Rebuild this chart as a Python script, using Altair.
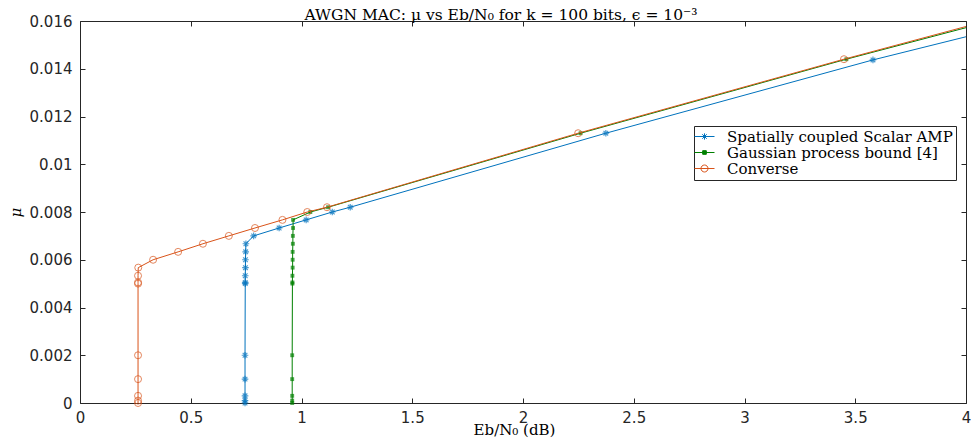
import altair as alt
import pandas as pd

SERIES = ["Spatially coupled Scalar AMP", "Gaussian process bound [4]", "Converse"]
COLORS = ["#0072BD", "#008000", "#D95319"]

# Spatially coupled Scalar AMP (Eb/N0 in dB, mu)
sc_x = [0.745, 0.745, 0.745, 0.745, 0.745, 0.746, 0.746, 0.746, 0.747, 0.747,
        0.748, 0.749, 0.784, 0.899, 1.021, 1.139, 1.22, 2.374, 3.58, 4.0]
sc_mu = [0, 0.0001, 0.0003, 0.001, 0.002, 0.005, 0.00505, 0.00533, 0.00567, 0.006,
         0.00633, 0.00667, 0.007, 0.00733, 0.00767, 0.008, 0.0082, 0.0113, 0.01437, 0.01534]

# Gaussian process bound [4]
gp_x = [0.958, 0.958, 0.958, 0.958, 0.958, 0.959, 0.959, 0.959, 0.96, 0.96,
        0.96, 0.961, 0.961, 0.962, 0.962, 1.04, 1.12, 2.26, 3.46, 4.0]
gp_mu = [0, 0.0001, 0.0003, 0.001, 0.002, 0.005, 0.00505, 0.00533, 0.00567, 0.006,
         0.00633, 0.00667, 0.007, 0.00733, 0.00767, 0.008, 0.0082, 0.0113, 0.0144, 0.01572]

# Converse
cv_x = [0.262, 0.262, 0.262, 0.262, 0.262, 0.262, 0.262, 0.262, 0.263, 0.33,
        0.443, 0.555, 0.672, 0.79, 0.914, 1.026, 1.115, 2.249, 3.449, 4.0]
cv_mu = [0, 0.0001, 0.0003, 0.001, 0.002, 0.005, 0.00505, 0.00533, 0.00567, 0.006,
         0.00633, 0.00667, 0.007, 0.00733, 0.00767, 0.008, 0.0082, 0.0113, 0.0144, 0.01577]

X_TICKS = [0, 0.5, 1, 1.5, 2, 2.5, 3, 3.5, 4]
Y_TICKS = [0, 0.002, 0.004, 0.006, 0.008, 0.01, 0.012, 0.014, 0.016]


def frame(name, xs, ys):
    n = len(xs)
    return pd.DataFrame({
        "x": xs, "mu": ys, "series": name, "idx": list(range(n)),
        "marker": [i < n - 1 for i in range(n)],
    })


dfs = [frame(SERIES[0], sc_x, sc_mu), frame(SERIES[1], gp_x, gp_mu), frame(SERIES[2], cv_x, cv_mu)]

AX = "#262626"
W, H = 886, 382
xscale = alt.Scale(domain=[0, 4], nice=False, zero=False)
yscale = alt.Scale(domain=[0, 0.016], nice=False, zero=False)

x_main = alt.Axis(values=X_TICKS, format="~g", title="Eb/N₀ (dB)", orient="bottom", offset=-5,
                  domain=False, tickSize=5, labelPadding=7, labelFlush=False, labelOverlap=False,
                  titlePadding=-3, titleX=434, grid=False)
y_main = alt.Axis(values=Y_TICKS, format="~g", title="μ", orient="left", offset=-5,
                  domain=False, tickSize=5, labelPadding=8, labelOverlap=False,
                  titleFontStyle="italic", titlePadding=6, grid=False)
x_top = alt.Axis(values=X_TICKS, orient="top", offset=-5, domain=False, labels=False,
                 tickSize=5, title=None, grid=False)
y_right = alt.Axis(values=Y_TICKS, orient="right", offset=-5, domain=False, labels=False,
                   tickSize=5, title=None, grid=False)

LINE_P = "M-1.43,0H1.43"
AST_L = "M-0.45,0H0.45M0,-0.45V0.45M-0.32,-0.32L0.32,0.32M-0.32,0.32L0.32,-0.32"
SQ_L = "M-0.26,-0.26H0.26V0.26H-0.26Z"
CI_L = "M-0.5,0A0.5,0.5 0 1,0 0.5,0A0.5,0.5 0 1,0 -0.5,0"
shape_sig = ("datum.value === '%s' ? '%s' : (datum.value === '%s' ? '%s' : '%s')"
             % (SERIES[0], LINE_P + AST_L, SERIES[1], LINE_P + SQ_L, LINE_P + CI_L))
fill_sig = "datum.value === '%s' ? '%s' : 'transparent'" % (SERIES[1], COLORS[1])

legend = alt.Legend(
    title=None, orient="none", legendX=614, legendY=105,
    labelFont="DejaVu Serif", labelFontSize=15, labelColor="black", labelLimit=0,
    symbolSize=196, symbolStrokeWidth=1, labelOffset=15,
    strokeColor=AX, fillColor="white", padding=3, rowPadding=-2,
    symbolType={"expr": shape_sig},
    symbolFillColor={"expr": fill_sig},
)
color = alt.Color("series:N", scale=alt.Scale(domain=SERIES, range=COLORS), legend=legend)

AST = "M-1,0H1M0,-1V1M-0.7,-0.7L0.7,0.7M-0.7,0.7L0.7,-0.7"
point_marks = [
    dict(shape=AST, size=44, filled=False, stroke=COLORS[0], strokeWidth=1.2),
    dict(shape="square", size=15, filled=True, fill=COLORS[1], strokeWidth=0),
    dict(shape="circle", size=49, filled=False, stroke=COLORS[2], strokeWidth=1),
]

layers = []
for i, df in enumerate(dfs):
    line = alt.Chart(df).mark_line(strokeWidth=1).encode(
        x=alt.X("x:Q", scale=xscale, axis=x_main if i == 0 else None),
        y=alt.Y("mu:Q", scale=yscale, axis=y_main if i == 0 else None),
        color=color,
        order="idx:Q",
    )
    pts = alt.Chart(df).transform_filter("datum.marker").mark_point(**point_marks[i]).encode(
        x=alt.X("x:Q", scale=xscale, axis=x_top if i == 2 else None),
        y=alt.Y("mu:Q", scale=yscale, axis=y_right if i == 2 else None),
    )
    layers += [line, pts]

chart = alt.layer(*layers).resolve_axis(x="independent", y="independent").properties(
    width=W, height=H,
    title=alt.TitleParams(text="AWGN MAC: μ vs Eb/N₀ for k = 100 bits, ϵ = 10⁻³",
                          font="DejaVu Serif", fontSize=15.5, fontWeight="normal", color="black",
                          offset=4, anchor="middle", frame="group", dx=-22, dy=13.5),
    padding={"left": 72, "top": 13, "right": 5, "bottom": 35},
    autosize=alt.AutoSizeParams(type="none"),
).configure_view(stroke=AX, strokeWidth=1).configure_axis(
    tickColor=AX, tickWidth=1, labelFont="DejaVu Sans", labelFontSize=15, labelColor=AX,
    titleFont="DejaVu Serif", titleFontSize=15, titleColor="black", titleFontWeight="normal",
)

chart.save("out.html", embed_options={"renderer": "svg", "actions": False})
